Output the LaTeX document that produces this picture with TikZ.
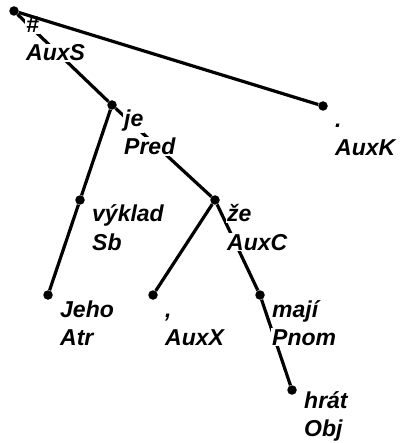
\documentclass[tikz,border=0pt]{standalone}
\usepackage{fontspec}
\setmainfont{Liberation Sans}
\usetikzlibrary{positioning}

\begin{document}
\begin{tikzpicture}[x=1pt, y=-1pt,
    knot/.style={circle, fill, inner sep=0pt, minimum size=9.5pt},
    tag/.style={anchor=base west, fill=white, inner sep=1pt,
        font=\fontsize{23}{27}\selectfont\bfseries\itshape},
    edge/.style={line width=3.2pt}]
    \useasboundingbox (0,0) rectangle (401,443);

    % uzly stromu
    \foreach \name/\x/\y in {root/14/11, je/112/105, vyklad/80/200, jeho/48/295,
        ze/215/200, carka/153/295, maji/260/295, hrat/292/390, tecka/323/106} {
        \node[knot] (\name) at (\x,\y) {};
    }

    % hrany
    \draw[edge] (root) -- (je);
    \draw[edge] (je) -- (vyklad);
    \draw[edge] (vyklad) -- (jeho);
    \draw[edge] (je) -- (ze);
    \draw[edge] (ze) -- (carka);
    \draw[edge] (ze) -- (maji);
    \draw[edge] (maji) -- (hrat);

    % popisky: slovo a funkce (\d = posun dolu)
    \foreach \name/\form/\afun/\d in {root/\#/AuxS/22, je/je/Pred/22, vyklad/výklad/Sb/22,
        jeho/Jeho/Atr/22, ze/že/AuxC/22, carka/{,}/AuxX/22, maji/mají/Pnom/22,
        hrat/hrát/Obj/18, tecka/./AuxK/22} {
        \node[tag] (\name-f) at ([shift={(11,\d)}]\name) {\form};
        \node[tag] (\name-a) at ([shift={(11,\d+28)}]\name) {\afun};
    }

    \draw[edge] (root) -- (tecka);
\end{tikzpicture}
\end{document}
